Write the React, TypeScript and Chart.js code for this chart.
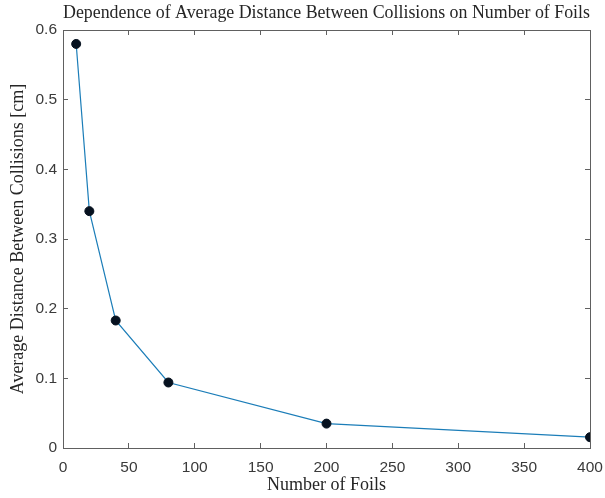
import React, { useEffect, useRef } from "react";
import { Chart, registerables } from "chart.js";

Chart.register(...registerables);

const foils = [10, 20, 40, 80, 200, 400];
const avgDistance = [0.58, 0.34, 0.183, 0.094, 0.035, 0.0155];
const xTicks = [0, 50, 100, 150, 200, 250, 300, 350, 400];
const yTicks = [0, 0.1, 0.2, 0.3, 0.4, 0.5, 0.6];

const titleText = "Dependence of Average Distance Between Collisions on Number of Foils";
const xTitle = "Number of Foils";
const yTitle = "Average Distance Between Collisions [cm]";

const SERIF = "'Liberation Serif', 'DejaVu Serif', serif";
const SANS = "'Liberation Sans', Arial, sans-serif";
const AXIS = "#606060";
const TEXT = "#3a3a3a";

export default function App() {
  const ref = useRef<HTMLCanvasElement | null>(null);
  useEffect(() => {
    document.body.style.margin = "0";
    const canvas = ref.current!;
    const fixWidth = (w: number) => (s: any) => {
      s.width = w;
      s.paddingTop = 0;
      s.paddingBottom = 0;
    };
    const fixHeight = (h: number) => (s: any) => {
      s.height = h;
      s.paddingLeft = 0;
      s.paddingRight = 0;
    };
    const chart = new Chart(canvas, {
      type: "scatter",
      data: {
        datasets: [
          {
            data: foils.map((x, i) => ({ x, y: avgDistance[i] })),
            showLine: true,
            borderColor: "#1b7db8",
            borderWidth: 1.2,
            pointBackgroundColor: "#06111f",
            pointBorderColor: "#06111f",
            pointRadius: 4.5,
            pointBorderWidth: 1,
            tension: 0,
          },
        ],
      },
      options: {
        animation: false,
        responsive: false,
        devicePixelRatio: 1,
        layout: { padding: { left: 0, right: 15, top: 0, bottom: 0 } },
        plugins: {
          legend: { display: false },
          tooltip: { enabled: false },
          title: {
            display: true,
            fullSize: false,
            text: titleText,
            color: "#262626",
            font: { family: SERIF, size: 18, weight: "normal" },
            padding: { top: 2, bottom: 6.4 },
          },
        },
        scales: {
          x: {
            type: "linear",
            position: "bottom",
            min: 0,
            max: 400,
            afterBuildTicks: (s: any) => {
              s.ticks = xTicks.map((v) => ({ value: v }));
            },
            afterFit: fixHeight(50),
            ticks: {
              color: TEXT,
              font: { family: SANS, size: 15.5 },
              padding: 15,
              maxRotation: 0,
              autoSkip: false,
            },
            grid: {
              drawOnChartArea: false,
              drawTicks: true,
              tickLength: -5,
              color: AXIS,
            },
            border: { display: true, color: AXIS, width: 1 },
            title: {
              display: true,
              text: xTitle,
              color: "#262626",
              font: { family: SERIF, size: 18 },
              padding: { top: 0, bottom: 2 },
            },
          },
          x2: {
            type: "linear",
            position: "top",
            min: 0,
            max: 400,
            afterBuildTicks: (s: any) => {
              s.ticks = xTicks.map((v) => ({ value: v }));
            },
            afterFit: fixHeight(0),
            ticks: { display: false },
            grid: {
              drawOnChartArea: false,
              drawTicks: true,
              tickLength: -5,
              color: AXIS,
            },
            border: { display: true, color: AXIS, width: 1 },
          },
          y: {
            type: "linear",
            position: "left",
            min: 0,
            max: 0.6,
            afterBuildTicks: (s: any) => {
              s.ticks = yTicks.map((v) => ({ value: v }));
            },
            afterFit: fixWidth(63),
            ticks: {
              color: TEXT,
              font: { family: SANS, size: 15.5 },
              padding: 11,
              autoSkip: false,
            },
            grid: {
              drawOnChartArea: false,
              drawTicks: true,
              tickLength: -5,
              color: AXIS,
            },
            border: { display: true, color: AXIS, width: 1 },
            title: {
              display: true,
              text: yTitle,
              color: "#262626",
              font: { family: SERIF, size: 18 },
              padding: { top: 7.5, bottom: 0 },
            },
          },
          y2: {
            type: "linear",
            position: "right",
            min: 0,
            max: 0.6,
            afterBuildTicks: (s: any) => {
              s.ticks = yTicks.map((v) => ({ value: v }));
            },
            afterFit: fixWidth(0),
            ticks: { display: false },
            grid: {
              drawOnChartArea: false,
              drawTicks: true,
              tickLength: -5,
              color: AXIS,
            },
            border: { display: true, color: AXIS, width: 1 },
          },
        },
      },
    } as any);
    return () => chart.destroy();
  }, []);
  return (
    <div style={{ width: 605, height: 498, background: "#fff" }}>
      <canvas ref={ref} width={605} height={498} style={{ display: "block" }} />
    </div>
  );
}
